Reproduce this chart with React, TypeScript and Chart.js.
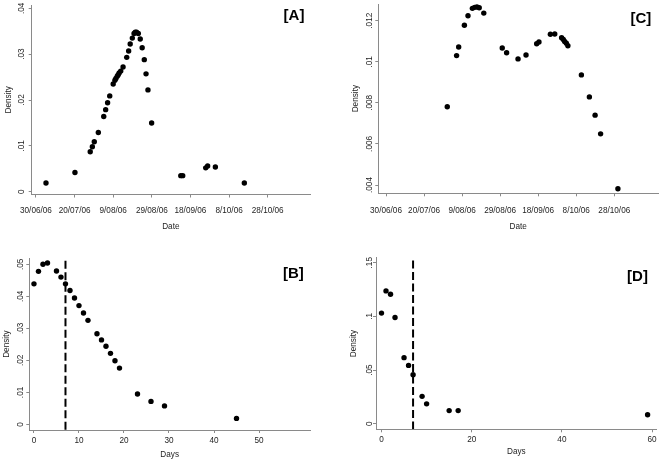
import { useEffect, useRef } from "react";
import { Chart, registerables } from "chart.js";

Chart.register(...registerables);

// ---------- data ----------
// Dates are expressed as days since 30/06/06
const dateTickValues = [0, 20, 40, 60, 80, 100, 120];
const dateTickLabels = ["30/06/06", "20/07/06", "9/08/06", "29/08/06", "18/09/06", "8/10/06", "28/10/06"];

// [A]
const aDays = [5.2, 20.2, 28.1, 29.2, 30.2, 32.3, 35.1, 36.1, 37.1, 38.2, 40.0, 40.9, 41.4, 42.1, 42.6, 43.1, 43.9, 45.1, 47.0, 48.0, 48.8, 49.9, 50.8, 51.4, 52.1, 53.0, 54.0, 55.0, 56.1, 57.0, 58.0, 59.9, 75.0, 76.0, 87.9, 88.9, 92.9, 107.9];
const aDensity = [0.0019, 0.0042, 0.0087, 0.0098, 0.0109, 0.0129, 0.0164, 0.0179, 0.0194, 0.0209, 0.0235, 0.0243, 0.0247, 0.0252, 0.0255, 0.0259, 0.0263, 0.0272, 0.0293, 0.0307, 0.0322, 0.0335, 0.0345, 0.0348, 0.0348, 0.0345, 0.0333, 0.0314, 0.0288, 0.0257, 0.0222, 0.015, 0.0035, 0.0035, 0.0052, 0.0056, 0.0054, 0.0019];
const aYTicks = [0, 0.01, 0.02, 0.03, 0.04];
const aYLabels = ["0", ".01", ".02", ".03", ".04"];

// [C]
const cDays = [32.2, 37.1, 38.2, 41.2, 43.1, 45.4, 46.6, 47.8, 49.0, 51.4, 61.1, 63.4, 69.4, 73.6, 79.2, 80.4, 86.4, 88.7, 92.3, 93.2, 93.9, 94.8, 95.6, 102.7, 106.9, 109.9, 112.8, 121.9];
const cDensity = [0.00781, 0.0103, 0.01072, 0.01178, 0.01224, 0.0126, 0.01265, 0.01267, 0.01263, 0.01237, 0.01067, 0.01044, 0.01014, 0.01033, 0.01088, 0.01096, 0.01134, 0.01135, 0.01117, 0.01109, 0.01099, 0.0109, 0.01078, 0.00936, 0.00829, 0.0074, 0.00649, 0.00382];
const cYTicks = [0.004, 0.006, 0.008, 0.01, 0.012];
const cYLabels = [".004", ".006", ".008", ".01", ".012"];

// [B]
const bDays = [0, 1, 2, 3, 5, 6, 7, 8, 9, 10, 11, 12, 14, 15, 16, 17, 18, 19, 23, 26, 29, 45];
const bDensity = [0.0439, 0.0478, 0.05, 0.0504, 0.0479, 0.046, 0.0439, 0.0418, 0.0395, 0.0371, 0.0348, 0.0325, 0.0283, 0.0264, 0.0244, 0.0222, 0.0199, 0.0176, 0.0095, 0.0072, 0.0058, 0.0019];
const bXTicks = [0, 10, 20, 30, 40, 50];
const bXLabels = ["0", "10", "20", "30", "40", "50"];
const bYTicks = [0, 0.01, 0.02, 0.03, 0.04, 0.05];
const bYLabels = ["0", ".01", ".02", ".03", ".04", ".05"];

// [D]
const dDays = [0, 1, 2, 3, 5, 6, 7, 9, 10, 15, 17, 59];
const dDensity = [0.1031, 0.1238, 0.1207, 0.099, 0.0616, 0.0544, 0.0458, 0.0256, 0.0186, 0.0123, 0.0123, 0.0084];
const dXTicks = [0, 20, 40, 60];
const dXLabels = ["0", "20", "40", "60"];
const dYTicks = [0, 0.05, 0.1, 0.15];
const dYLabels = ["0", ".05", ".1", ".15"];

const cutoffDay = 7;

// ---------- styling ----------
const FONT = '"Liberation Sans", Arial, Helvetica, sans-serif';
const TEXT_COLOR = "#1e1e1e";
const AXIS_COLOR = "#8a8a8a";

type Geo = {
  left: number; top: number; w: number; h: number;
  aL: number; aT: number; aR: number; aB: number;
  yLabelX: number; xLabelY: number; xTitleY: number; yTitleX: number;
  tagX: number; tagY: number;
};

type PanelSpec = {
  tag: string;
  xs: number[]; ys: number[];
  xTicks: number[]; xLabels: string[];
  yTicks: number[]; yLabels: string[];
  xMin: number; xMax: number; yMin: number; yMax: number;
  xTitle: string;
  cutoff?: number; cutoffTop?: number;
  geo: Geo;
};

const panels: PanelSpec[] = [
  {
    tag: "[A]", xs: aDays, ys: aDensity,
    xTicks: dateTickValues, xLabels: dateTickLabels, yTicks: aYTicks, yLabels: aYLabels,
    xMin: -2.2, xMax: 141.9, yMin: -0.00061, yMax: 0.04072, xTitle: "Date",
    geo: { left: 0, top: 0, w: 330, h: 231, aL: 31.7, aT: 5, aR: 310, aB: 194.5,
      yLabelX: 21.5, xLabelY: 211, xTitleY: 227, yTitleX: 8.5, tagX: 294, tagY: 16 },
  },
  {
    tag: "[C]", xs: cDays, ys: cDensity,
    xTicks: dateTickValues, xLabels: dateTickLabels, yTicks: cYTicks, yLabels: cYLabels,
    xMin: -4.05, xMax: 142.97, yMin: 0.003596, yMax: 0.012813, xTitle: "Date",
    geo: { left: 330, top: 0, w: 331, h: 231, aL: 48.3, aT: 4, aR: 328, aB: 193.3,
      yLabelX: 40, xLabelY: 211, xTitleY: 226.5, yTitleX: 26, tagX: 310.8, tagY: 19 },
  },
  {
    tag: "[B]", xs: bDays, ys: bDensity,
    xTicks: bXTicks, xLabels: bXLabels, yTicks: bYTicks, yLabels: bYLabels,
    xMin: -1.04, xMax: 61.33, yMin: -0.00172, yMax: 0.05187, xTitle: "Days",
    cutoff: cutoffDay, cutoffTop: 0.0511,
    geo: { left: 0, top: 231, w: 330, h: 231, aL: 29.3, aT: 27.3, aR: 310, aB: 199,
      yLabelX: 21, xLabelY: 210, xTitleY: 224, yTitleX: 6.5, tagX: 293.3, tagY: 43 },
  },
  {
    tag: "[D]", xs: dDays, ys: dDensity,
    xTicks: dXTicks, xLabels: dXLabels, yTicks: dYTicks, yLabels: dYLabels,
    xMin: -1.22, xMax: 61.02, yMin: -0.0051, yMax: 0.1547, xTitle: "Days",
    cutoff: cutoffDay, cutoffTop: 0.1522,
    geo: { left: 330, top: 231, w: 331, h: 231, aL: 46, aT: 26.7, aR: 326.7, aB: 198.3,
      yLabelX: 39.5, xLabelY: 208.5, xTitleY: 220.5, yTitleX: 23.5, tagX: 307.5, tagY: 45.5 },
  },
];

const textPlugin = {
  id: "panelText",
  afterDraw(chart: any, _args: any, opts: any) {
    const ctx = chart.ctx as CanvasRenderingContext2D;
    const xs = chart.scales.x;
    const ys = chart.scales.y;
    const ca = chart.chartArea;
    const g: Geo = opts.geo;
    ctx.save();
    ctx.fillStyle = TEXT_COLOR;
    ctx.font = `8.2px ${FONT}`;
    ctx.textAlign = "center";
    ctx.textBaseline = "middle";
    xs.ticks.forEach((t: any, i: number) => {
      ctx.fillText(opts.xLabels[i], xs.getPixelForValue(t.value), g.xLabelY);
    });
    ys.ticks.forEach((t: any, i: number) => {
      const py = ys.getPixelForValue(t.value);
      ctx.save();
      ctx.translate(g.yLabelX, py);
      ctx.rotate(-Math.PI / 2);
      ctx.fillText(opts.yLabels[i], 0, 0);
      ctx.restore();
    });
    ctx.fillText(opts.xTitle, (ca.left + ca.right) / 2, g.xTitleY);
    ctx.save();
    ctx.translate(g.yTitleX, (ca.top + ca.bottom) / 2);
    ctx.rotate(-Math.PI / 2);
    ctx.fillText("Density", 0, 0);
    ctx.restore();
    ctx.font = `bold 15px ${FONT}`;
    ctx.fillStyle = "#000";
    ctx.fillText(opts.tag, g.tagX, g.tagY);
    ctx.restore();
  },
};

function Panel({ spec }: { spec: PanelSpec }) {
  const ref = useRef<HTMLCanvasElement>(null);
  const g = spec.geo;
  useEffect(() => {
    const canvas = ref.current;
    if (!canvas) return;
    const datasets: any[] = [
      {
        type: "scatter",
        data: spec.xs.map((x, i) => ({ x, y: spec.ys[i] })),
        backgroundColor: "#000",
        borderColor: "#000",
        borderWidth: 0,
        pointRadius: 2.7,
        pointHoverRadius: 2.7,
        order: 1,
      },
    ];
    if (spec.cutoff !== undefined) {
      datasets.push({
        type: "line",
        data: [
          { x: spec.cutoff, y: spec.cutoffTop },
          { x: spec.cutoff, y: spec.yMin },
        ],
        borderColor: "#000",
        borderWidth: 2,
        borderDash: [8, 3.5],
        pointRadius: 0,
        fill: false,
        order: 2,
      });
    }
    const chart = new Chart(canvas, {
      type: "scatter",
      data: { datasets },
      plugins: [textPlugin as any],
      options: {
        animation: false,
        responsive: false,
        devicePixelRatio: 1,
        events: [],
        layout: { padding: { left: 0, top: g.aT, right: g.w - g.aR, bottom: 0 } },
        plugins: {
          legend: { display: false },
          tooltip: { enabled: false },
          panelText: {
            geo: g, xLabels: spec.xLabels, yLabels: spec.yLabels, xTitle: spec.xTitle, tag: spec.tag,
          },
        } as any,
        scales: {
          x: {
            type: "linear",
            min: spec.xMin,
            max: spec.xMax,
            afterBuildTicks: (s: any) => { s.ticks = spec.xTicks.map((v) => ({ value: v })); },
            afterFit: (s: any) => { s.height = g.h - g.aB; },
            ticks: { display: false },
            grid: { drawOnChartArea: false, drawTicks: true, tickLength: 3, color: AXIS_COLOR, lineWidth: 1 },
            border: { display: true, color: AXIS_COLOR, width: 1 },
          },
          y: {
            type: "linear",
            min: spec.yMin,
            max: spec.yMax,
            afterBuildTicks: (s: any) => { s.ticks = spec.yTicks.map((v) => ({ value: v })); },
            afterFit: (s: any) => { s.width = g.aL; },
            ticks: { display: false },
            grid: { drawOnChartArea: false, drawTicks: true, tickLength: 3, color: AXIS_COLOR, lineWidth: 1 },
            border: { display: true, color: AXIS_COLOR, width: 1 },
          },
        },
      } as any,
    });
    return () => chart.destroy();
  }, [spec]);
  return (
    <canvas
      ref={ref}
      width={g.w}
      height={g.h}
      style={{ position: "absolute", left: g.left, top: g.top, width: g.w, height: g.h }}
    />
  );
}

export default function App() {
  return (
    <div style={{ position: "absolute", left: 0, top: 0, width: 661, height: 462, background: "#fff" }}>
      {panels.map((p) => (
        <Panel key={p.tag} spec={p} />
      ))}
    </div>
  );
}
